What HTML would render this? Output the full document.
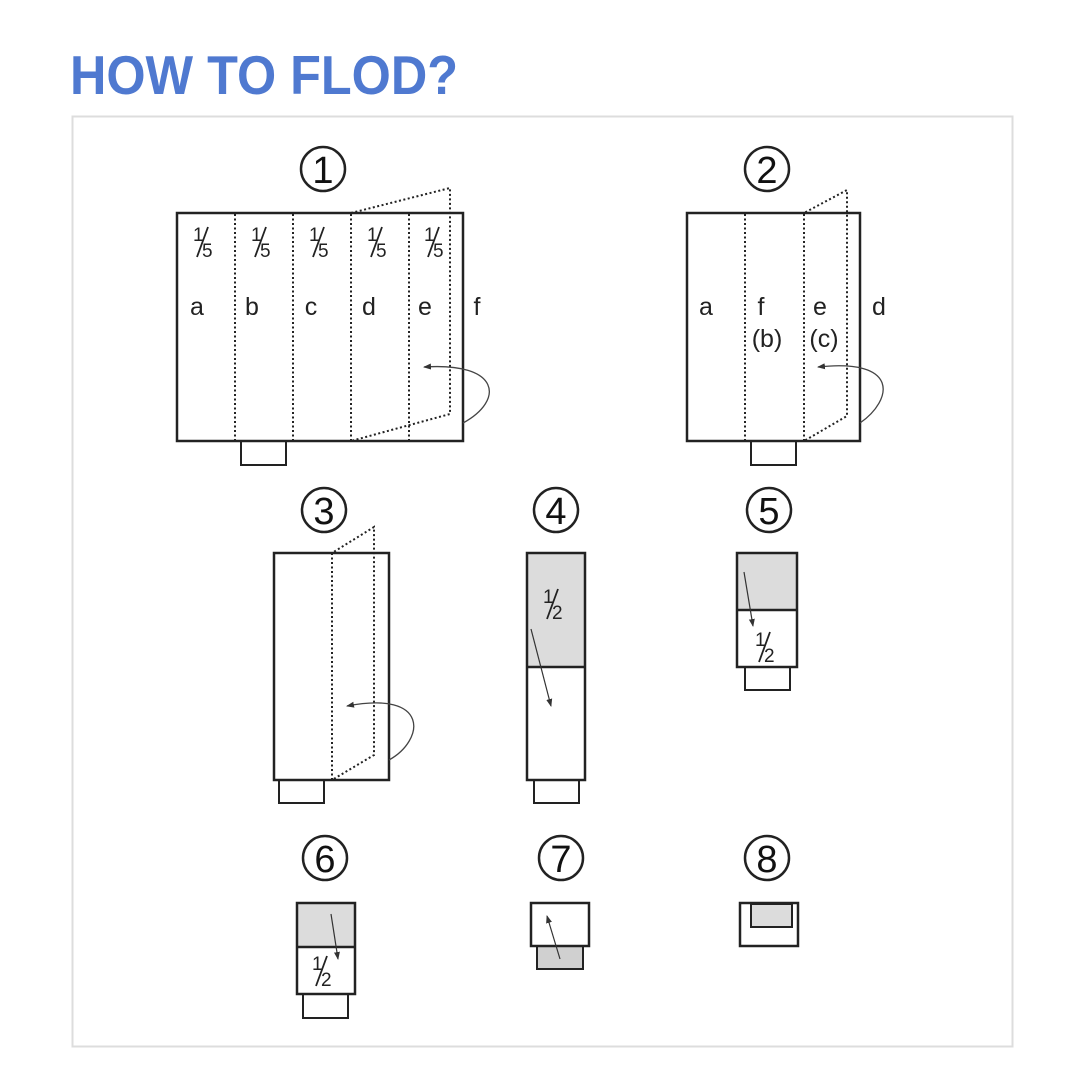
<!DOCTYPE html>
<html><head><meta charset="utf-8"><style>
html,body{margin:0;padding:0;background:#fff;width:1080px;height:1080px;overflow:hidden}
svg{display:block}
text{font-family:"Liberation Sans","DejaVu Sans",sans-serif}
</style></head><body>
<svg width="1080" height="1080" viewBox="0 0 1080 1080" xmlns="http://www.w3.org/2000/svg">
<defs>
<marker id="ah" markerWidth="8" markerHeight="8" refX="7" refY="4" orient="auto" markerUnits="userSpaceOnUse">
<path d="M0,1 L8,4 L0,7 Z" fill="#333"/></marker>
<g id="f5"><text x="-1" y="1" font-size="19">1</text><line x1="3" y1="17" x2="14" y2="-13" stroke="#222" stroke-width="1.8"/><text x="8" y="17" font-size="19">5</text></g>
<g id="f2"><text x="-1" y="1" font-size="19">1</text><line x1="3" y1="17" x2="14" y2="-13" stroke="#222" stroke-width="1.8"/><text x="8" y="17" font-size="19">2</text></g>
</defs>
<rect width="1080" height="1080" fill="#fff"/>
<text x="70" y="94" font-size="55" font-weight="bold" fill="#4f79d0" textLength="388" lengthAdjust="spacingAndGlyphs">HOW TO FLOD?</text>
<rect x="72.5" y="116.5" width="940" height="930" fill="none" stroke="#ddd" stroke-width="2"/>

<g stroke="#222" stroke-width="2.5" fill="none">
<circle cx="323" cy="169" r="22"/><circle cx="767" cy="169" r="22"/>
<circle cx="324" cy="510" r="22"/><circle cx="556" cy="510" r="22"/><circle cx="769" cy="510" r="22"/>
<circle cx="325" cy="858" r="22"/><circle cx="561" cy="858" r="22"/><circle cx="767" cy="858" r="22"/>
</g>
<g font-size="38" text-anchor="middle" fill="#111">
<text x="323" y="183">1</text><text x="767" y="183">2</text>
<text x="324" y="524">3</text><text x="556" y="524">4</text><text x="769" y="524">5</text>
<text x="325" y="872">6</text><text x="561" y="872">7</text><text x="767" y="872">8</text>
</g>

<!-- Fig 1 -->
<g fill="none" stroke="#222">
<rect x="177" y="213" width="286" height="228" stroke-width="2.5"/>
<rect x="241" y="441" width="45" height="24" stroke-width="2"/>
<g stroke-dasharray="2,2.5" stroke-width="2">
<line x1="235" y1="214" x2="235" y2="440"/><line x1="293" y1="214" x2="293" y2="440"/>
<line x1="351" y1="214" x2="351" y2="440"/><line x1="409" y1="214" x2="409" y2="440"/>
<polyline points="351,213 450,188 450,414 351,441"/>
</g>
<path d="M463,423 C505,400 500,362 424,367" stroke="#444" stroke-width="1.3" marker-end="url(#ah)"/>
</g>
<g fill="#222">
<use href="#f5" x="194" y="240"/><use href="#f5" x="252" y="240"/><use href="#f5" x="310" y="240"/><use href="#f5" x="368" y="240"/><use href="#f5" x="425" y="240"/>
</g>
<g font-size="25" text-anchor="middle" fill="#222">
<text x="197" y="315">a</text><text x="252" y="315">b</text><text x="311" y="315">c</text><text x="369" y="315">d</text><text x="425" y="315">e</text><text x="477" y="315">f</text>
</g>

<!-- Fig 2 -->
<g fill="none" stroke="#222">
<rect x="687" y="213" width="173" height="228" stroke-width="2.5"/>
<rect x="751" y="441" width="45" height="24" stroke-width="2"/>
<g stroke-dasharray="2,2.5" stroke-width="2">
<line x1="745" y1="214" x2="745" y2="440"/>
<polyline points="804,441 804,213 847,190 847,416 804,441"/>
</g>
<path d="M860,423 C893,400 900,358 818,367" stroke="#444" stroke-width="1.3" marker-end="url(#ah)"/>
</g>
<g font-size="25" text-anchor="middle" fill="#222">
<text x="706" y="315">a</text><text x="761" y="315">f</text><text x="820" y="315">e</text><text x="879" y="315">d</text>
<text x="767" y="347">(b)</text><text x="824" y="347">(c)</text>
</g>

<!-- Fig 3 -->
<g fill="none" stroke="#222">
<rect x="274" y="553" width="115" height="227" stroke-width="2.5"/>
<rect x="279" y="780" width="45" height="23" stroke-width="2"/>
<g stroke-dasharray="2,2.5" stroke-width="2">
<polyline points="332,780 332,553 374,527 374,755 332,780"/>
</g>
<path d="M389,760 C425,740 430,690 347,706" stroke="#444" stroke-width="1.3" marker-end="url(#ah)"/>
</g>

<!-- Fig 4 -->
<rect x="527" y="553" width="58" height="114" fill="#dcdcdc"/>
<g fill="none" stroke="#222">
<rect x="527" y="553" width="58" height="227" stroke-width="2.5"/>
<line x1="527" y1="667" x2="585" y2="667" stroke-width="2.5"/>
<rect x="534" y="780" width="45" height="23" stroke-width="2"/>
<line x1="531" y1="629" x2="551" y2="706" stroke="#333" stroke-width="1.2" marker-end="url(#ah)"/>
</g>
<use href="#f2" x="544" y="602" fill="#222"/>

<!-- Fig 5 -->
<rect x="737" y="553" width="60" height="57" fill="#dcdcdc"/>
<g fill="none" stroke="#222">
<rect x="737" y="553" width="60" height="114" stroke-width="2.5"/>
<line x1="737" y1="610" x2="797" y2="610" stroke-width="2.5"/>
<rect x="745" y="667" width="45" height="23" stroke-width="2"/>
<line x1="744" y1="572" x2="753" y2="626" stroke="#333" stroke-width="1.2" marker-end="url(#ah)"/>
</g>
<use href="#f2" x="756" y="645" fill="#222"/>

<!-- Fig 6 -->
<rect x="297" y="903" width="58" height="44" fill="#dcdcdc"/>
<g fill="none" stroke="#222">
<rect x="297" y="903" width="58" height="91" stroke-width="2.5"/>
<line x1="297" y1="947" x2="355" y2="947" stroke-width="2.5"/>
<rect x="303" y="994" width="45" height="24" stroke-width="2"/>
<line x1="331" y1="914" x2="338" y2="959" stroke="#333" stroke-width="1.2" marker-end="url(#ah)"/>
</g>
<use href="#f2" x="313" y="969" fill="#222"/>

<!-- Fig 7 -->
<rect x="537" y="946" width="46" height="23" fill="#d0d0d0" stroke="#222" stroke-width="2"/>
<rect x="531" y="903" width="58" height="43" fill="#fff" stroke="#222" stroke-width="2.5"/>
<line x1="560" y1="959" x2="547" y2="916" stroke="#333" stroke-width="1.2" marker-end="url(#ah)"/>

<!-- Fig 8 -->
<rect x="740" y="903" width="58" height="43" fill="#fff" stroke="#222" stroke-width="2.5"/>
<rect x="751" y="904" width="41" height="23" fill="#dcdcdc" stroke="#222" stroke-width="2"/>
</svg>
</body></html>
